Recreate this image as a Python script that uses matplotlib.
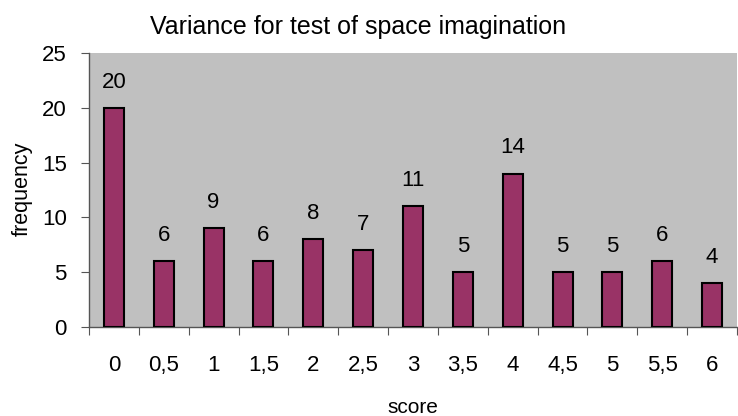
import matplotlib
matplotlib.use("Agg")
import matplotlib.pyplot as plt
import numpy as np

plt.rcParams['font.family'] = ['Liberation Sans', 'DejaVu Sans']

categories = ["0", "0,5", "1", "1,5", "2", "2,5", "3", "3,5", "4", "4,5", "5", "5,5", "6"]
frequency = [20, 6, 9, 6, 8, 7, 11, 5, 14, 5, 5, 6, 4]

W, H = 738, 416
fig = plt.figure(figsize=(W / 100, H / 100), dpi=100)
ax = fig.add_axes([89 / W, (H - 327) / H, 648 / W, 274 / H])
ax.set_facecolor('#c0c0c0')

x = np.arange(len(categories))
ax.bar(x, frequency, width=0.4, color='#993366', edgecolor='black', linewidth=1.5, zorder=3)
for xi, v in zip(x, frequency):
    ax.annotate(str(v), (xi, v), xytext=(0, 14.5), textcoords='offset points',
                ha='center', va='baseline', fontsize=16)

ax.set_xlim(-0.5, len(categories) - 0.5)
ax.set_ylim(0, 25)
ax.set_yticks([0, 5, 10, 15, 20, 25])
ax.set_xticks(np.arange(len(categories) + 1) - 0.5)
ax.set_xticklabels([])
ax.set_xticks(x, minor=True)
ax.set_xticklabels(categories, minor=True)
ax.tick_params(axis='x', which='minor', length=0, pad=20, labelsize=16)
ax.tick_params(axis='x', which='major', length=6, color='#555555', direction='out')
ax.tick_params(axis='y', length=6, color='#555555', labelsize=16, pad=10)

for s in ['top', 'right']:
    ax.spines[s].set_visible(False)
for s in ['left', 'bottom']:
    ax.spines[s].set_color('#555555')
    ax.spines[s].set_linewidth(1)

fig.text(358 / W, (H - 34) / H, 'Variance for test of space imagination',
         ha='center', va='baseline', fontsize=18)
fig.text(413 / W, (H - 413) / H, 'score', ha='center', va='baseline', fontsize=15)
fig.text(22 / W, (H - 189) / H, 'frequency', ha='center', va='center',
         rotation=90, fontsize=15.5)

fig.savefig('out.png', dpi=100)
